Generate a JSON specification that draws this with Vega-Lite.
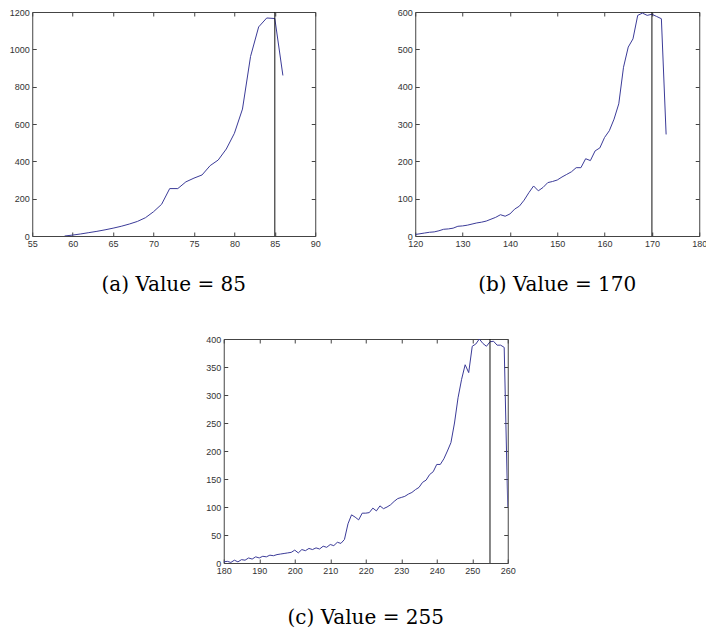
{
  "$schema": "https://vega.github.io/schema/vega-lite/v6.json",
  "background": "white",
  "padding": {"left": 9, "top": 8, "right": 0, "bottom": 0},
  "config": {
    "view": {"stroke": null},
    "axis": {
      "grid": false,
      "domainColor": "#444444",
      "tickColor": "#444444",
      "tickSize": -4,
      "labelFont": "Liberation Sans",
      "labelFontSize": 9,
      "labelColor": "#333333",
      "labelFlush": false,
      "labelOverlap": false,
      "labelPadding": 7,
      "format": "d",
      "title": null
    },
    "title": {"font": "DejaVu Serif", "fontSize": 20, "fontWeight": "normal", "color": "#000000"}
  },
  "datasets": {
    "a": [
      {"x": 59, "y": 0}, {"x": 60, "y": 5}, {"x": 61, "y": 11}, {"x": 62, "y": 18}, {"x": 63, "y": 25},
      {"x": 64, "y": 33}, {"x": 65, "y": 42}, {"x": 66, "y": 52}, {"x": 67, "y": 64}, {"x": 68, "y": 78},
      {"x": 69, "y": 98}, {"x": 70, "y": 130}, {"x": 71, "y": 170}, {"x": 72, "y": 254}, {"x": 73, "y": 254},
      {"x": 74, "y": 290}, {"x": 75, "y": 310}, {"x": 76, "y": 327}, {"x": 77, "y": 377}, {"x": 78, "y": 407},
      {"x": 79, "y": 466}, {"x": 80, "y": 550}, {"x": 81, "y": 680}, {"x": 82, "y": 962}, {"x": 83, "y": 1120},
      {"x": 84, "y": 1168}, {"x": 85, "y": 1165}, {"x": 86, "y": 860}
    ],
    "b": [
      {"x": 120, "y": 4}, {"x": 121, "y": 6}, {"x": 122, "y": 8}, {"x": 123, "y": 10}, {"x": 124, "y": 11},
      {"x": 125, "y": 14}, {"x": 126, "y": 18}, {"x": 127, "y": 19}, {"x": 128, "y": 21}, {"x": 129, "y": 26},
      {"x": 130, "y": 27}, {"x": 131, "y": 29}, {"x": 132, "y": 32}, {"x": 133, "y": 35}, {"x": 134, "y": 37},
      {"x": 135, "y": 40}, {"x": 136, "y": 45}, {"x": 137, "y": 50}, {"x": 138, "y": 57}, {"x": 139, "y": 53},
      {"x": 140, "y": 59}, {"x": 141, "y": 72}, {"x": 142, "y": 80}, {"x": 143, "y": 96}, {"x": 144, "y": 116},
      {"x": 145, "y": 134}, {"x": 146, "y": 121}, {"x": 147, "y": 130}, {"x": 148, "y": 143}, {"x": 149, "y": 146},
      {"x": 150, "y": 150}, {"x": 151, "y": 158}, {"x": 152, "y": 165}, {"x": 153, "y": 172}, {"x": 154, "y": 183},
      {"x": 155, "y": 183}, {"x": 156, "y": 207}, {"x": 157, "y": 202}, {"x": 158, "y": 228}, {"x": 159, "y": 236},
      {"x": 160, "y": 264}, {"x": 161, "y": 282}, {"x": 162, "y": 313}, {"x": 163, "y": 354}, {"x": 164, "y": 452},
      {"x": 165, "y": 506}, {"x": 166, "y": 528}, {"x": 167, "y": 591}, {"x": 168, "y": 597}, {"x": 169, "y": 591},
      {"x": 170, "y": 594}, {"x": 171, "y": 588}, {"x": 172, "y": 582}, {"x": 173, "y": 272}
    ],
    "c": [
      {"x": 180, "y": 2}, {"x": 181, "y": 3}, {"x": 182, "y": 1}, {"x": 183, "y": 5}, {"x": 184, "y": 2},
      {"x": 185, "y": 6}, {"x": 186, "y": 5}, {"x": 187, "y": 9}, {"x": 188, "y": 7}, {"x": 189, "y": 11},
      {"x": 190, "y": 9}, {"x": 191, "y": 12}, {"x": 192, "y": 11}, {"x": 193, "y": 14}, {"x": 194, "y": 13},
      {"x": 195, "y": 15}, {"x": 196, "y": 16}, {"x": 197, "y": 17}, {"x": 198, "y": 18}, {"x": 199, "y": 19},
      {"x": 200, "y": 23}, {"x": 201, "y": 18}, {"x": 202, "y": 24}, {"x": 203, "y": 22}, {"x": 204, "y": 26},
      {"x": 205, "y": 24}, {"x": 206, "y": 27}, {"x": 207, "y": 25}, {"x": 208, "y": 30}, {"x": 209, "y": 28},
      {"x": 210, "y": 33}, {"x": 211, "y": 31}, {"x": 212, "y": 37}, {"x": 213, "y": 35}, {"x": 214, "y": 42},
      {"x": 215, "y": 70}, {"x": 216, "y": 86}, {"x": 217, "y": 82}, {"x": 218, "y": 77}, {"x": 219, "y": 89},
      {"x": 220, "y": 89}, {"x": 221, "y": 90}, {"x": 222, "y": 98}, {"x": 223, "y": 93}, {"x": 224, "y": 102},
      {"x": 225, "y": 97}, {"x": 226, "y": 100}, {"x": 227, "y": 104}, {"x": 228, "y": 110}, {"x": 229, "y": 115},
      {"x": 230, "y": 117}, {"x": 231, "y": 119}, {"x": 232, "y": 123}, {"x": 233, "y": 126}, {"x": 234, "y": 131},
      {"x": 235, "y": 135}, {"x": 236, "y": 144}, {"x": 237, "y": 148}, {"x": 238, "y": 158}, {"x": 239, "y": 163},
      {"x": 240, "y": 176}, {"x": 241, "y": 176}, {"x": 242, "y": 186}, {"x": 243, "y": 200}, {"x": 244, "y": 215},
      {"x": 245, "y": 250}, {"x": 246, "y": 295}, {"x": 247, "y": 328}, {"x": 248, "y": 354}, {"x": 249, "y": 340},
      {"x": 250, "y": 387}, {"x": 251, "y": 391}, {"x": 252, "y": 400}, {"x": 253, "y": 392}, {"x": 254, "y": 387},
      {"x": 255, "y": 395}, {"x": 256, "y": 396}, {"x": 257, "y": 389}, {"x": 258, "y": 389}, {"x": 259, "y": 385},
      {"x": 260, "y": 100}
    ],
    "ra": [{"x": 85, "y0": 0, "y1": 1200}],
    "rb": [{"x": 170, "y0": 0, "y1": 600}],
    "rc": [{"x": 255, "y0": 0, "y1": 400}]
  },
  "vconcat": [
    {
      "hconcat": [
        {
          "width": 283, "height": 224,
          "title": {"text": "(a) Value = 85", "orient": "bottom", "offset": 27},
          "layer": [
            {
              "data": {"name": "a"},
              "mark": {"type": "line", "color": "#3b3b98", "strokeWidth": 1, "clip": true},
              "encoding": {
                "x": {"field": "x", "type": "quantitative", "scale": {"domain": [55, 90], "nice": false, "zero": false},
                      "axis": {"orient": "bottom", "values": [55, 60, 65, 70, 75, 80, 85, 90]}},
                "y": {"field": "y", "type": "quantitative", "scale": {"domain": [0, 1200], "nice": false},
                      "axis": {"orient": "left", "values": [0, 200, 400, 600, 800, 1000, 1200]}}
              }
            },
            {
              "data": {"name": "ra"},
              "mark": {"type": "rule", "color": "#111111", "strokeWidth": 1},
              "encoding": {
                "x": {"field": "x", "type": "quantitative", "scale": {"domain": [55, 90], "nice": false, "zero": false},
                      "axis": {"orient": "top", "labels": false, "values": [55, 60, 65, 70, 75, 80, 85, 90]}},
                "y": {"field": "y0", "type": "quantitative", "scale": {"domain": [0, 1200], "nice": false},
                      "axis": {"orient": "right", "labels": false, "values": [0, 200, 400, 600, 800, 1000, 1200]}},
                "y2": {"field": "y1"}
              }
            }
          ],
          "resolve": {"axis": {"x": "independent", "y": "independent"}}
        },
        {
          "width": 284, "height": 224,
          "title": {"text": "(b) Value = 170", "orient": "bottom", "offset": 27},
          "layer": [
            {
              "data": {"name": "b"},
              "mark": {"type": "line", "color": "#3b3b98", "strokeWidth": 1, "clip": true},
              "encoding": {
                "x": {"field": "x", "type": "quantitative", "scale": {"domain": [120, 180], "nice": false, "zero": false},
                      "axis": {"orient": "bottom", "values": [120, 130, 140, 150, 160, 170, 180]}},
                "y": {"field": "y", "type": "quantitative", "scale": {"domain": [0, 600], "nice": false},
                      "axis": {"orient": "left", "values": [0, 100, 200, 300, 400, 500, 600]}}
              }
            },
            {
              "data": {"name": "rb"},
              "mark": {"type": "rule", "color": "#111111", "strokeWidth": 1},
              "encoding": {
                "x": {"field": "x", "type": "quantitative", "scale": {"domain": [120, 180], "nice": false, "zero": false},
                      "axis": {"orient": "top", "labels": false, "values": [120, 130, 140, 150, 160, 170, 180]}},
                "y": {"field": "y0", "type": "quantitative", "scale": {"domain": [0, 600], "nice": false},
                      "axis": {"orient": "right", "labels": false, "values": [0, 100, 200, 300, 400, 500, 600]}},
                "y2": {"field": "y1"}
              }
            }
          ],
          "resolve": {"axis": {"x": "independent", "y": "independent"}}
        }
      ],
      "spacing": 75
    },
    {
      "width": 284, "height": 224,
      "title": {"text": "(c) Value = 255", "orient": "bottom", "offset": 33},
      "layer": [
        {
          "data": {"name": "c"},
          "mark": {"type": "line", "color": "#3b3b98", "strokeWidth": 1, "clip": true},
          "encoding": {
            "x": {"field": "x", "type": "quantitative", "scale": {"domain": [180, 260], "nice": false, "zero": false},
                  "axis": {"orient": "bottom", "values": [180, 190, 200, 210, 220, 230, 240, 250, 260]}},
            "y": {"field": "y", "type": "quantitative", "scale": {"domain": [0, 400], "nice": false},
                  "axis": {"orient": "left", "values": [0, 50, 100, 150, 200, 250, 300, 350, 400]}}
          }
        },
        {
          "data": {"name": "rc"},
          "mark": {"type": "rule", "color": "#111111", "strokeWidth": 1},
          "encoding": {
            "x": {"field": "x", "type": "quantitative", "scale": {"domain": [180, 260], "nice": false, "zero": false},
                  "axis": {"orient": "top", "labels": false, "values": [180, 190, 200, 210, 220, 230, 240, 250, 260]}},
            "y": {"field": "y0", "type": "quantitative", "scale": {"domain": [0, 400], "nice": false},
                  "axis": {"orient": "right", "labels": false, "values": [0, 50, 100, 150, 200, 250, 300, 350, 400]}},
            "y2": {"field": "y1"}
          }
        }
      ],
      "resolve": {"axis": {"x": "independent", "y": "independent"}}
    }
  ],
  "spacing": 40,
  "center": true
}
